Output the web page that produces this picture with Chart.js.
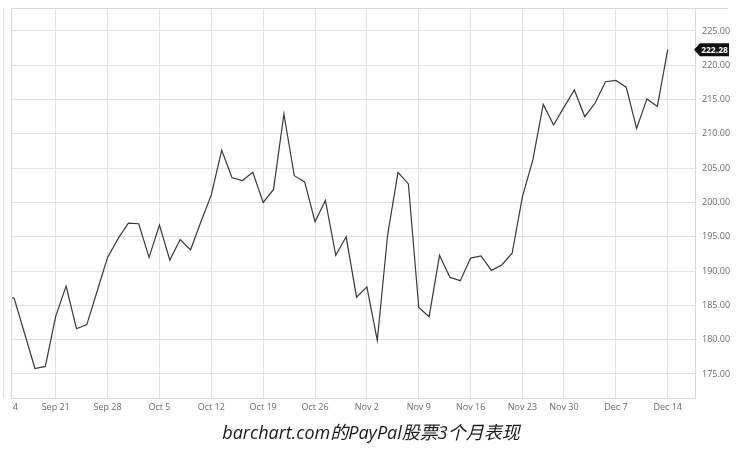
<!DOCTYPE html>
<html>
<head>
<meta charset="utf-8">
<script src="https://cdn.jsdelivr.net/npm/chart.js@4/dist/chart.umd.min.js"></script>
<style>
  html, body { margin: 0; padding: 0; background: #ffffff; }
  #wrap { width: 750px; height: 450px; position: relative; }
</style>
</head>
<body>
<div id="wrap"><canvas id="priceChart"></canvas></div>
<script>
// ---- Data (trading days, Sep 14 - Dec 14) ----
const dates = [
  "Sep 14", "Sep 15", "Sep 16", "Sep 17", "Sep 18", "Sep 21", "Sep 22", "Sep 23", "Sep 24", "Sep 25",
  "Sep 28", "Sep 29", "Sep 30", "Oct 1", "Oct 2", "Oct 5", "Oct 6", "Oct 7", "Oct 8", "Oct 9",
  "Oct 12", "Oct 13", "Oct 14", "Oct 15", "Oct 16", "Oct 19", "Oct 20", "Oct 21", "Oct 22", "Oct 23",
  "Oct 26", "Oct 27", "Oct 28", "Oct 29", "Oct 30", "Nov 2", "Nov 3", "Nov 4", "Nov 5", "Nov 6",
  "Nov 9", "Nov 10", "Nov 11", "Nov 12", "Nov 13", "Nov 16", "Nov 17", "Nov 18", "Nov 19", "Nov 20",
  "Nov 23", "Nov 24", "Nov 25", "Nov 27", "Nov 30", "Dec 1", "Dec 2", "Dec 3", "Dec 4", "Dec 7",
  "Dec 8", "Dec 9", "Dec 10", "Dec 11", "Dec 14"
];

const prices = [
  186.7, 186.0, 180.9, 175.8, 176.1, 183.4, 187.8, 181.6, 182.2, 187.1,
  192.0, 194.7, 197.0, 196.9, 192.0, 196.7, 191.6, 194.6, 193.1, 197.2,
  201.1, 207.6, 203.6, 203.2, 204.4, 200.0, 201.9, 212.9, 203.9, 203.0,
  197.2, 200.3, 192.3, 195.0, 186.2, 187.7, 179.9, 195.3, 204.4, 202.7,
  184.7, 183.35, 192.3, 189.1, 188.6, 191.9, 192.2, 190.1, 190.9, 192.6,
  200.9, 206.2, 214.3, 211.3, 213.9, 216.4, 212.5, 214.5, 217.6, 217.8,
  216.8, 210.8, 215.1, 214.0, 222.28
];

// weekly x-axis labels (first trading day of each week)
const weekLabels = ["Sep 14", "Sep 21", "Sep 28", "Oct 5", "Oct 12", "Oct 19", "Oct 26",
  "Nov 2", "Nov 9", "Nov 16", "Nov 23", "Nov 30", "Dec 7", "Dec 14"];

const yTicks = [175, 180, 185, 190, 195, 200, 205, 210, 215, 220, 225];

const caption = "barchart.com的PayPal股票3个月表现";

// ---- Helpers ----
const points = prices.map((p, i) => ({ x: i, y: p }));
const weekIdx = weekLabels.map(d => dates.indexOf(d));

// frame around the plot + mask for the clipped first week label
const framePlugin = {
  id: 'frame',
  afterDraw(chart) {
    const { ctx, chartArea } = chart;
    ctx.save();
    ctx.strokeStyle = '#d9d9d9';
    ctx.lineWidth = 1;
    ctx.beginPath();
    ctx.moveTo(chartArea.left + 0.5, chartArea.bottom);
    ctx.lineTo(chartArea.left + 0.5, chartArea.top + 0.5);
    ctx.lineTo(728, chartArea.top + 0.5);
    ctx.stroke();
    // the "Sep 14" label is cut at the plot edge
    ctx.fillStyle = '#ffffff';
    ctx.fillRect(0, chartArea.bottom + 1, chartArea.left, 18);
    ctx.restore();
  }
};

// last price tag on the right axis
const lastTagPlugin = {
  id: 'lastTag',
  afterDraw(chart) {
    const { ctx } = chart;
    const y = chart.scales.y.getPixelForValue(prices[prices.length - 1]);
    const x0 = 694, x1 = 700, x2 = 729, h = 6.5;
    ctx.save();
    ctx.fillStyle = '#111111';
    ctx.beginPath();
    ctx.moveTo(x0, y);
    ctx.lineTo(x1, y - h);
    ctx.lineTo(x2, y - h);
    ctx.lineTo(x2, y + h);
    ctx.lineTo(x1, y + h);
    ctx.closePath();
    ctx.fill();
    ctx.fillStyle = '#ffffff';
    ctx.font = 'bold 8.5px "Open Sans", sans-serif';
    ctx.textAlign = 'center';
    ctx.textBaseline = 'middle';
    ctx.fillText(prices[prices.length - 1].toFixed(2), (x1 + x2) / 2, y + 0.5);
    ctx.restore();
  }
};

// caption under the chart (centred on the picture, not the plot)
const captionPlugin = {
  id: 'caption',
  afterDraw(chart) {
    const { ctx } = chart;
    ctx.save();
    ctx.fillStyle = '#1a1a1a';
    ctx.font = 'italic 18px "Open Sans", "Noto Sans CJK SC", sans-serif';
    ctx.textAlign = 'center';
    ctx.textBaseline = 'middle';
    ctx.fillText(caption, 371, 434);
    ctx.restore();
  }
};

// ---- Chart ----
const ctx = document.getElementById('priceChart');

new Chart(ctx.getContext('2d'), {
  type: 'line',
  data: {
    datasets: [
      {
        label: 'PYPL',
        data: points,
        borderColor: '#3a3a3a',
        borderWidth: 1.2,
        pointRadius: 0,
        tension: 0,
        fill: false,
      },
    ],
  },
  options: {
    responsive: true,
    maintainAspectRatio: false,
    animation: false,
    layout: {
      padding: { top: 8, left: 11, right: 0, bottom: 32 },
    },
    plugins: {
      legend: { display: false },
      tooltip: { enabled: false },
      title: { display: false },
    },
    scales: {
      x: {
        type: 'linear',
        min: 0.69,
        max: 66.63,
        afterBuildTicks: (scale) => {
          scale.ticks = weekIdx.map(v => ({ value: v }));
        },
        afterFit: (scale) => {
          scale.height = 20;
          scale.paddingLeft = 0;
          scale.paddingRight = 0;
        },
        ticks: {
          autoSkip: false,
          maxRotation: 0,
          padding: 4,
          color: '#6b6b6b',
          font: { family: '"Open Sans", sans-serif', size: 9 },
          callback: (value) => dates[value] || '',
        },
        grid: {
          color: '#e2e2e2',
          drawTicks: false,
        },
        border: { display: true, color: '#d9d9d9' },
      },
      y: {
        position: 'right',
        min: 171.5,
        max: 228.35,
        afterBuildTicks: (scale) => {
          scale.ticks = yTicks.map(v => ({ value: v }));
        },
        afterFit: (scale) => {
          scale.width = 55;
          scale.paddingTop = 0;
          scale.paddingBottom = 0;
        },
        ticks: {
          padding: 7,
          color: '#6b6b6b',
          font: { family: '"Open Sans", sans-serif', size: 9 },
          callback: (value) => value.toFixed(2),
        },
        grid: {
          color: '#e2e2e2',
          drawTicks: false,
        },
        border: { display: true, color: '#d9d9d9' },
      },
    },
  },
  plugins: [framePlugin, lastTagPlugin, captionPlugin],
});
</script>
</body>
</html>
